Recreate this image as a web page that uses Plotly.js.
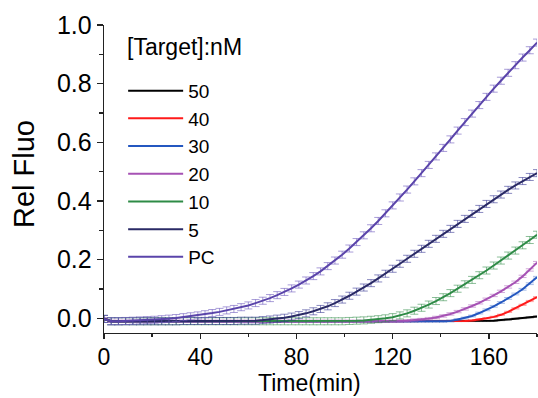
<!DOCTYPE html>
<html><head><meta charset="utf-8">
<script src="https://cdn.plot.ly/plotly-3.0.1.min.js"></script>
<style>html,body{margin:0;padding:0;background:#fff}#chart{width:538px;height:398px}</style>
</head><body><div id="chart"></div>
<script>
// time points (min), every 3 min
const time = [0,3,6,9,12,15,18,21,24,27,30,33,36,39,42,45,48,51,54,57,60,63,66,69,72,75,78,81,84,87,90,93,96,99,102,105,108,111,114,117,120,123,126,129,132,135,138,141,144,147,150,153,156,159,162,165,168,171,174,177,180];

const seriesNames = ["50","40","30","20","10","5","PC"];
const seriesColors = ["#000000","#ff1a1a","#2457c0","#a652b4","#2e8b46","#2a2a66","#5a44aa"];
const errColors = ["rgba(0,0,0,0.35)","rgba(255,26,26,0.4)","rgba(36,87,192,0.4)","rgba(166,82,180,0.5)","rgba(46,139,70,0.55)","rgba(42,42,140,0.55)","rgba(110,90,190,0.6)"];
const errSize = [0.002,0.002,0.003,0.004,0.012,0.012,0.012];

const y50 = [-0.002,-0.010,-0.010,-0.010,-0.010,-0.010,-0.010,-0.010,-0.010,-0.010,-0.010,-0.010,-0.010,-0.010,-0.010,-0.010,-0.010,-0.010,-0.010,-0.010,-0.010,-0.010,-0.010,-0.010,-0.010,-0.010,-0.010,-0.010,-0.010,-0.010,-0.010,-0.010,-0.010,-0.010,-0.010,-0.010,-0.010,-0.010,-0.010,-0.010,-0.010,-0.010,-0.010,-0.010,-0.009,-0.009,-0.009,-0.009,-0.009,-0.009,-0.009,-0.009,-0.009,-0.009,-0.008,-0.006,-0.004,-0.001,0.001,0.003,0.006];
const y40 = [-0.002,-0.010,-0.010,-0.010,-0.010,-0.010,-0.010,-0.010,-0.010,-0.010,-0.010,-0.010,-0.010,-0.010,-0.010,-0.010,-0.010,-0.010,-0.010,-0.010,-0.010,-0.010,-0.010,-0.010,-0.010,-0.010,-0.010,-0.010,-0.010,-0.010,-0.010,-0.010,-0.010,-0.010,-0.010,-0.010,-0.010,-0.010,-0.010,-0.010,-0.010,-0.010,-0.009,-0.009,-0.009,-0.009,-0.009,-0.009,-0.009,-0.009,-0.009,-0.007,-0.004,0.000,0.005,0.012,0.022,0.034,0.046,0.059,0.072];
const y30 = [-0.002,-0.011,-0.011,-0.011,-0.011,-0.011,-0.011,-0.011,-0.011,-0.011,-0.011,-0.011,-0.011,-0.011,-0.011,-0.011,-0.011,-0.011,-0.011,-0.011,-0.011,-0.011,-0.011,-0.011,-0.011,-0.011,-0.011,-0.011,-0.011,-0.011,-0.011,-0.011,-0.011,-0.011,-0.011,-0.011,-0.011,-0.011,-0.011,-0.011,-0.011,-0.011,-0.011,-0.011,-0.011,-0.011,-0.011,-0.011,-0.009,-0.004,0.001,0.008,0.018,0.029,0.041,0.054,0.068,0.083,0.099,0.118,0.140];
const y20 = [-0.002,-0.010,-0.010,-0.010,-0.010,-0.010,-0.010,-0.010,-0.010,-0.010,-0.010,-0.010,-0.010,-0.010,-0.010,-0.010,-0.010,-0.010,-0.010,-0.010,-0.010,-0.010,-0.010,-0.010,-0.010,-0.010,-0.010,-0.010,-0.010,-0.010,-0.010,-0.010,-0.010,-0.010,-0.010,-0.010,-0.010,-0.010,-0.010,-0.010,-0.010,-0.009,-0.008,-0.006,-0.004,-0.001,0.003,0.008,0.015,0.023,0.032,0.042,0.053,0.065,0.078,0.092,0.107,0.123,0.143,0.165,0.190];
const y10 = [-0.002,-0.010,-0.010,-0.010,-0.010,-0.010,-0.010,-0.010,-0.010,-0.010,-0.010,-0.010,-0.010,-0.010,-0.010,-0.010,-0.010,-0.010,-0.010,-0.010,-0.010,-0.010,-0.010,-0.010,-0.010,-0.010,-0.010,-0.010,-0.010,-0.010,-0.010,-0.010,-0.010,-0.010,-0.009,-0.008,-0.007,-0.005,-0.003,0.000,0.004,0.010,0.017,0.026,0.036,0.047,0.059,0.072,0.086,0.101,0.116,0.131,0.147,0.163,0.180,0.197,0.214,0.231,0.249,0.267,0.285];
const y5 = [-0.002,-0.010,-0.010,-0.010,-0.010,-0.010,-0.010,-0.010,-0.010,-0.010,-0.010,-0.009,-0.009,-0.009,-0.009,-0.009,-0.009,-0.009,-0.009,-0.008,-0.008,-0.008,-0.006,-0.004,-0.001,0.002,0.006,0.011,0.017,0.024,0.032,0.041,0.052,0.064,0.077,0.091,0.105,0.120,0.136,0.152,0.169,0.186,0.203,0.220,0.237,0.254,0.271,0.288,0.305,0.322,0.339,0.356,0.373,0.390,0.406,0.422,0.438,0.453,0.468,0.482,0.495];
const yPC = [-0.002,-0.010,-0.010,-0.009,-0.008,-0.007,-0.006,-0.005,-0.003,-0.001,0.001,0.004,0.007,0.010,0.014,0.018,0.022,0.027,0.032,0.038,0.044,0.052,0.060,0.069,0.079,0.090,0.102,0.115,0.129,0.144,0.160,0.178,0.197,0.217,0.238,0.260,0.283,0.307,0.332,0.358,0.385,0.412,0.439,0.467,0.495,0.523,0.552,0.581,0.610,0.640,0.669,0.698,0.727,0.755,0.783,0.810,0.837,0.863,0.889,0.914,0.940];

const seriesValues = [y50,y40,y30,y20,y10,y5,yPC];

const xTickVals = [0,40,80,120,160];
const xTickText = ["0","40","80","120","160"];
const yTickVals = [0,0.2,0.4,0.6,0.8,1.0];
const yTickText = ["0.0","0.2","0.4","0.6","0.8","1.0"];

const traces = seriesNames.map((n,i)=>({
  type:'scatter', mode:'lines', name:n, x:time, y:seriesValues[i],
  line:{color:seriesColors[i], width:2},
  error_y:{type:'constant', value:errSize[i], color:errColors[i], thickness:1, width:4}
}));

const FONT = 'Liberation Sans, Arial, sans-serif';
const layout = {
  width:538, height:398,
  margin:{l:104, r:1, t:25, b:65},
  paper_bgcolor:'#fff', plot_bgcolor:'#fff',
  font:{family:FONT, color:'#000'},
  showlegend:true,
  legend:{
    x:0.0442, y:0.848, xanchor:'left', yanchor:'top',
    bgcolor:'rgba(0,0,0,0)', borderwidth:0,
    font:{family:FONT, size:19, color:'#000'},
    itemwidth:55, tracegroupgap:0
  },
  xaxis:{
    range:[0,180], showgrid:false, zeroline:false,
    showline:true, linecolor:'#222', linewidth:1.3,
    ticks:'outside', ticklen:5, tickwidth:1.3, tickcolor:'#222',
    ticklabelstandoff:-2,
    tickvals:xTickVals, ticktext:xTickText,
    tickfont:{family:FONT, size:23, color:'#000'},
    minor:{dtick:20, tick0:0, ticks:'outside', ticklen:3, tickwidth:1.3, tickcolor:'#222', showgrid:false},
    title:{text:''}
  },
  yaxis:{
    range:[-0.05,1.0], showgrid:false, zeroline:false,
    showline:true, linecolor:'#222', linewidth:1.3,
    ticks:'outside', ticklen:6, tickwidth:1.3, tickcolor:'#222',
    tickvals:yTickVals, ticktext:yTickText,
    tickfont:{family:FONT, size:25, color:'#000'},
    minor:{dtick:0.1, tick0:0, ticks:'outside', ticklen:4, tickwidth:1.3, tickcolor:'#222', showgrid:false},
    title:{text:''},
    automargin:false
  },
  annotations:[{
    text:'Time(min)', xref:'paper', yref:'paper', x:(309-104)/433, y:(333-398)/308,
    xanchor:'center', yanchor:'bottom', showarrow:false,
    font:{family:FONT, size:23, color:'#000'}
  },{
    text:'Rel Fluo', xref:'paper', yref:'paper', x:(24-104)/433, y:(333-174)/308,
    xanchor:'center', yanchor:'middle', showarrow:false, textangle:-90,
    font:{family:FONT, size:29, color:'#000'}
  },{
    text:'[Target]:nM', xref:'paper', yref:'paper', x:(125-104)/433, y:(333-47)/308,
    xanchor:'left', yanchor:'middle', showarrow:false,
    font:{family:FONT, size:23, color:'#000'}
  }]
};
Plotly.newPlot('chart', traces, layout, {displayModeBar:false, staticPlot:true});
</script></body></html>
